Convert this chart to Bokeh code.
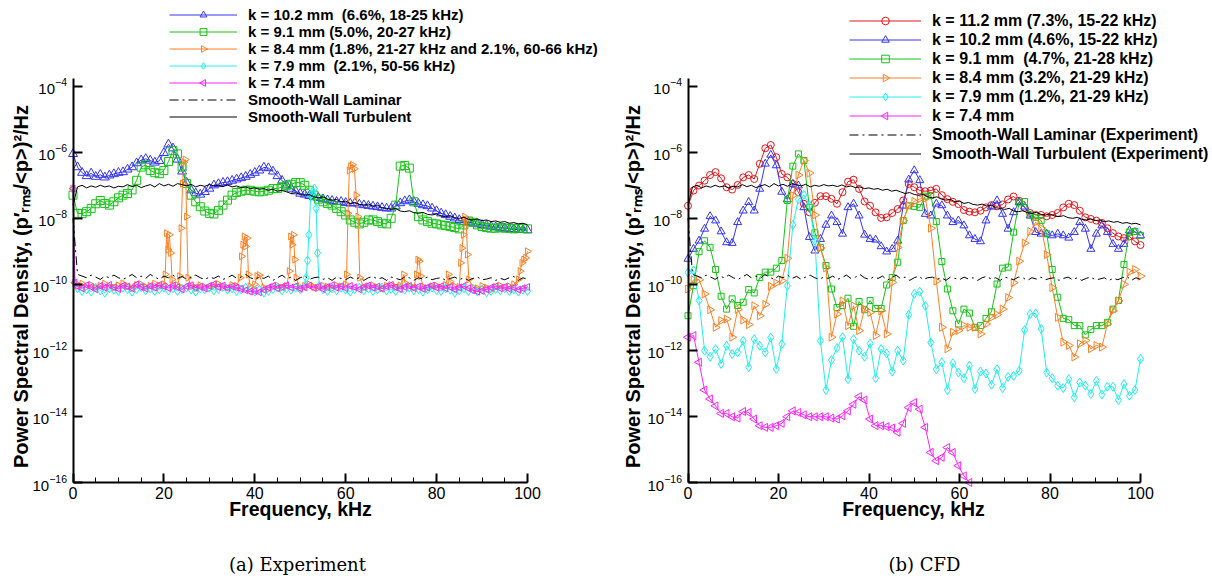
import numpy as np
from bokeh.plotting import figure
from bokeh.layouts import row
from bokeh.models import (Range1d, FixedTicker, SingleIntervalTicker, Legend,
                          LegendItem, Label)
from bokeh.embed import file_html
from bokeh.resources import INLINE

# ------------------------------------------------------------------
# Frequency bins (kHz)
# ------------------------------------------------------------------
exp_freq = list(range(0, 101))                               # experiment, 1 kHz bins
cfd_freq = [round(float(v), 3) for v in np.linspace(0.0, 100.0, 83)]  # CFD bins

# ------------------------------------------------------------------
# Experiment: log10 of PSD
# ------------------------------------------------------------------
exp_k102 = [
    -6.05, -6.45, -6.62, -6.72, -6.64, -6.74, -6.68, -6.76, -6.70, -6.66,
    -6.62, -6.60, -6.52, -6.45, -6.33, -6.24, -6.20, -6.25, -6.31, -6.26,
    -6.02, -5.76, -5.88, -6.22, -6.58, -6.92, -7.15, -7.24, -7.28, -7.20,
    -7.10, -7.00, -6.96, -6.92, -6.90, -6.86, -6.82, -6.78, -6.74, -6.68,
    -6.62, -6.55, -6.46, -6.48, -6.58, -6.72, -6.86, -7.00, -7.10, -7.18,
    -7.25, -7.28, -7.32, -7.36, -7.38, -7.42, -7.45, -7.47, -7.50, -7.50,
    -7.53, -7.55, -7.54, -7.58, -7.60, -7.62, -7.64, -7.66, -7.68, -7.70,
    -7.70, -7.64, -7.54, -7.48, -7.45, -7.50, -7.56, -7.60, -7.63, -7.70,
    -7.78, -7.85, -7.90, -7.95, -8.00, -8.05, -8.10, -8.12, -8.15, -8.18,
    -8.20, -8.22, -8.25, -8.27, -8.28, -8.30, -8.32, -8.33, -8.35, -8.35,
    -8.36]

exp_k91 = [
    -7.30, -7.85, -7.86, -7.80, -7.70, -7.56, -7.46, -7.55, -7.60, -7.50,
    -7.38, -7.30, -7.25, -7.14, -6.85, -6.45, -6.38, -6.55, -6.62, -6.65,
    -6.55, -6.28, -5.95, -6.05, -6.45, -6.95, -7.30, -7.50, -7.65, -7.78,
    -7.85, -7.87, -7.76, -7.60, -7.45, -7.30, -7.22, -7.18, -7.15, -7.15,
    -7.18, -7.20, -7.18, -7.15, -7.10, -7.10, -7.05, -7.00, -6.97, -6.92,
    -6.92, -7.00, -7.15, -7.30, -7.42, -7.50, -7.55, -7.60, -7.70, -7.80,
    -7.90, -8.05, -8.12, -8.17, -8.12, -8.05, -8.05, -8.10, -8.15, -8.17,
    -8.00, -7.60, -6.42, -6.40, -6.48, -7.50, -7.95, -8.05, -8.10, -8.15,
    -8.17, -8.20, -8.22, -8.25, -8.28, -8.32, -8.20, -8.08, -8.12, -8.20,
    -8.25, -8.28, -8.30, -8.30, -8.28, -8.30, -8.30, -8.32, -8.30, -8.30,
    -8.32]

# k = 8.4 mm: baseline with narrow bursts
exp_k84_f = ([0, 0.4] + list(range(1, 21))
             + [20.3, 20.6, 20.9, 21.2, 21.5, 21.8, 22, 23]
             + [23.5, 23.8, 24.1, 24.4, 24.7, 25.0, 25.3] + list(range(26, 37))
             + [36.8, 37.1, 37.4, 37.7, 38.0, 38.3, 38.6, 39, 40, 40.5, 41] + list(range(42, 48))
             + [47.6, 47.9, 48.2, 48.5, 48.8, 49.1] + list(range(50, 61))
             + [60.2, 60.5, 60.8, 61.1, 61.5, 61.9, 62.3, 62.7, 63.1] + list(range(64, 73))
             + [72.8, 73, 74, 75, 75.6, 75.9, 76.2, 76.5] + list(range(77, 83))
             + [82.6, 83, 84, 85, 85.3, 85.6, 85.9, 86.2, 86.5, 86.8, 87.1] + list(range(88, 99))
             + [98.4, 98.8, 99.2, 99.6, 100])
exp_k84 = ([-7.10, -9.95,
            -10.05, -9.98, -10.08, -10.02, -10.10, -10.04, -9.98, -10.06, -10.10, -10.03,
            -9.97, -10.07, -10.12, -10.02, -10.00, -10.08, -10.05, -9.98, -10.04, -10.00]
           + [-9.70, -8.45, -8.95, -8.50, -9.05, -9.85, -10.06, -10.02]
           + [-9.75, -8.30, -6.95, -6.30, -6.22, -7.95, -9.80,
              -10.05, -10.10, -10.03, -10.08, -10.12, -10.04, -9.99, -10.07, -10.10, -10.02, -10.05]
           + [-9.80, -9.15, -8.80, -8.55, -8.85, -8.60, -9.70, -10.06, -10.00, -9.75, -9.72,
              -10.10, -10.15, -10.08, -10.04, -10.10, -10.05]
           + [-9.60, -8.55, -8.80, -8.50, -9.25, -9.80,
              -10.12, -10.05, -10.00, -10.08, -10.10, -10.04, -10.07, -10.12, -10.03, -10.06, -10.00]
           + [-9.70, -7.85, -6.55, -6.42, -6.38, -6.50, -7.30, -7.95, -9.80,
              -10.10, -10.06, -10.03, -10.09, -10.12, -10.05, -10.02, -10.08, -10.04]
           + [-9.70, -9.95, -10.05, -10.10, -9.70, -9.25, -9.30, -9.75,
              -10.07, -10.12, -10.06, -10.04, -10.10, -10.02]
           + [-9.70, -9.92, -10.06, -10.08, -9.35, -8.90, -8.50, -7.95, -8.05, -9.10, -9.85,
              -10.09, -10.12, -10.05, -10.10, -10.16, -10.08, -10.04, -10.10, -10.06, -10.00, -9.85]
           + [-9.60, -9.35, -9.25, -9.20, -9.00])

# k = 7.9 mm: baseline with one burst near 52-54 kHz
exp_k79_f = ([0, 0.4] + list(range(1, 52))
             + [51.3, 51.6, 51.9, 52.3, 52.7, 53.1, 53.5, 53.8, 54.2] + list(range(55, 101)))
exp_k79 = ([-7.10, -9.95,
            -10.12, -10.20, -10.15, -10.22, -10.10, -10.18, -10.25, -10.12, -10.16, -10.20,
            -10.10, -10.15, -10.22, -10.14, -10.08, -10.18, -10.12, -10.20, -10.15, -10.10,
            -10.18, -10.12, -10.20, -10.14, -10.10, -10.16, -10.22, -10.12, -10.15, -10.10,
            -10.18, -10.14, -10.08, -10.16, -10.12, -10.20, -10.15, -10.10, -10.18, -10.22,
            -10.16, -10.25, -10.20, -10.14, -10.10, -10.18, -10.12, -10.16, -10.10, -10.14,
            -10.05]
           + [-9.80, -9.28, -8.50, -7.30, -7.20, -7.10, -7.70, -9.05, -10.05]
           + [-10.15, -10.20, -10.12, -10.18, -10.10, -10.16, -10.22, -10.14, -10.10, -10.18,
              -10.12, -10.20, -10.15, -10.10, -10.18, -10.14, -10.20, -10.12, -10.16, -10.10,
              -10.18, -10.14, -10.22, -10.15, -10.10, -10.17, -10.20, -10.12, -10.16, -10.25,
              -10.18, -10.12, -10.20, -10.15, -10.22, -10.16, -10.24, -10.20, -10.14, -10.18,
              -10.12, -10.20, -10.15, -10.22, -10.16, -10.20])

exp_k74_f = [0, 0.4] + list(range(1, 101))
exp_k74 = [-7.10, -9.95,
    -10.06, -10.12, -10.03, -10.08, -10.15, -10.05, -10.10, -10.02, -10.09, -10.14,
    -10.04, -10.07, -10.12, -10.00, -10.08, -10.13, -10.05, -10.10, -10.02, -10.06,
    -10.11, -10.04, -10.09, -10.15, -10.06, -10.03, -10.10, -10.07, -10.12, -10.05,
    -10.00, -10.08, -10.04, -10.11, -10.06, -10.10, -10.14, -10.18, -10.22, -10.20,
    -10.24, -10.16, -10.10, -10.05, -10.12, -10.08, -10.03, -10.10, -10.06, -10.13,
    -10.09, -10.04, -10.11, -10.07, -10.14, -10.08, -10.03, -10.10, -10.06, -10.12,
    -10.05, -10.09, -10.15, -10.08, -10.04, -10.10, -10.07, -10.13, -10.06, -10.02,
    -10.09, -10.14, -10.08, -10.05, -10.11, -10.07, -10.13, -10.09, -10.04, -10.10,
    -10.06, -10.12, -10.08, -10.15, -10.10, -10.05, -10.12, -10.18, -10.22, -10.20,
    -10.15, -10.10, -10.06, -10.12, -10.08, -10.14, -10.10, -10.16, -10.12, -10.08]

# Smooth-wall references (experiment), shared by both panels
smooth_turb = [
    -7.60, -7.05, -7.00, -7.08, -7.02, -7.06, -7.00, -7.05, -7.02, -7.08,
    -7.03, -7.05, -6.98, -7.04, -7.00, -7.07, -7.02, -6.98, -7.05, -6.95,
    -7.02, -6.97, -7.03, -6.95, -6.98, -7.02, -6.97, -7.05, -7.00, -7.03,
    -6.98, -7.02, -7.00, -7.04, -6.99, -7.05, -7.02, -7.07, -7.05, -7.10,
    -7.08, -7.12, -7.10, -7.15, -7.12, -7.18, -7.15, -7.20, -7.25, -7.22,
    -7.28, -7.30, -7.28, -7.35, -7.38, -7.35, -7.42, -7.45, -7.43, -7.50,
    -7.48, -7.55, -7.52, -7.58, -7.60, -7.57, -7.63, -7.60, -7.68, -7.70,
    -7.73, -7.70, -7.78, -7.80, -7.77, -7.83, -7.85, -7.82, -7.88, -7.90,
    -7.87, -7.93, -7.95, -7.92, -7.98, -8.00, -7.97, -8.03, -8.05, -8.02,
    -8.07, -8.05, -8.10, -8.08, -8.12, -8.10, -8.15, -8.13, -8.17, -8.15,
    -8.20]

smooth_lam = [
    -8.00, -9.70, -9.75, -9.80, -9.72, -9.78, -9.85, -9.75, -9.80, -9.72,
    -9.80, -9.85, -9.78, -9.70, -9.80, -9.75, -9.82, -9.70, -9.78, -9.85,
    -9.75, -9.80, -9.72, -9.82, -9.76, -9.85, -9.78, -9.72, -9.80, -9.85,
    -9.78, -9.82, -9.75, -9.85, -9.80, -9.72, -9.82, -9.78, -9.70, -9.80,
    -9.85, -9.78, -9.82, -9.75, -9.88, -9.80, -9.72, -9.83, -9.78, -9.88,
    -9.80, -9.75, -9.85, -9.80, -9.78, -9.85, -9.80, -9.88, -9.78, -9.82,
    -9.86, -9.78, -9.84, -9.80, -9.88, -9.80, -9.76, -9.84, -9.80, -9.88,
    -9.78, -9.82, -9.86, -9.78, -9.80, -9.88, -9.80, -9.84, -9.78, -9.86,
    -9.82, -9.80, -9.88, -9.82, -9.78, -9.86, -9.80, -9.88, -9.82, -9.78,
    -9.86, -9.84, -9.80, -9.88, -9.82, -9.86, -9.80, -9.76, -9.88, -9.80,
    -9.85]

# ------------------------------------------------------------------
# CFD: log10 of PSD on cfd_freq
# ------------------------------------------------------------------
cfd_k112 = [
    -7.62, -7.16, -7.01, -6.86, -6.69, -6.60, -6.79, -7.06, -7.13, -6.99,
    -6.76, -6.69, -6.81, -6.35, -5.88, -5.78, -6.15, -6.66, -6.76, -6.96,
    -7.21, -7.56, -7.82, -7.53, -7.33, -7.33, -7.41, -7.56, -7.21, -6.89,
    -6.83, -7.11, -7.49, -7.62, -7.82, -7.99, -7.97, -7.84, -7.72, -7.46,
    -6.96, -7.06, -7.16, -7.18, -7.16, -7.11, -7.30, -7.42, -7.50, -7.57,
    -7.75, -7.80, -7.82, -7.77, -7.67, -7.60, -7.64, -7.58, -7.43, -7.34,
    -7.47, -7.68, -7.84, -7.90, -7.90, -7.94, -7.90, -7.84, -7.67, -7.56,
    -7.60, -7.77, -7.97, -8.02, -8.07, -8.14, -8.30, -8.45, -8.55, -8.60,
    -8.55, -8.70, -8.81]

cfd_k102 = [
    -9.23, -8.93, -8.68, -8.32, -7.94, -8.07, -8.40, -8.73, -8.75, -8.12,
    -7.77, -7.51, -7.77, -7.11, -6.35, -6.08, -6.40, -7.20, -7.43, -6.96,
    -7.01, -7.67, -8.57, -8.98, -8.63, -8.20, -7.92, -8.12, -8.47, -7.67,
    -7.56, -7.92, -8.50, -8.63, -8.65, -8.85, -9.01, -8.93, -8.68, -7.62,
    -6.83, -6.55, -6.85, -7.87, -7.92, -7.56, -7.61, -7.92, -8.12, -8.07,
    -8.22, -8.52, -8.63, -8.70, -8.07, -7.65, -7.46, -7.87, -8.32, -7.82,
    -7.51, -7.65, -7.92, -8.42, -8.47, -8.47, -8.52, -8.47, -8.52, -8.59,
    -8.42, -8.12, -8.32, -8.93, -8.47, -8.22, -8.42, -8.78, -8.93, -8.78,
    -8.37, -8.42, -8.52]

cfd_k91 = [
    -10.95, -10.04, -9.01, -8.68, -8.88, -9.55, -10.36, -10.75, -10.44, -10.64,
    -10.54, -10.16, -10.26, -9.79, -9.63, -9.63, -9.51, -9.28, -7.46, -6.42,
    -6.05, -6.25, -7.67, -8.44, -8.88, -9.43, -10.14, -10.70, -10.64, -10.42,
    -11.27, -10.52, -10.77, -10.49, -10.73, -10.73, -10.02, -9.79, -9.33, -8.07,
    -7.62, -7.64, -7.67, -7.33, -7.31, -8.10, -9.31, -10.14, -10.80, -11.20,
    -10.75, -10.87, -11.30, -11.25, -11.03, -10.83, -9.99, -9.51, -9.48, -8.42,
    -7.53, -7.49, -7.90, -7.97, -8.07, -8.47, -9.55, -10.39, -11.03, -11.07,
    -11.25, -11.25, -11.53, -11.37, -11.25, -11.25, -11.15, -10.75, -10.49, -9.40,
    -8.42, -8.40, -8.52]

cfd_k84 = [
    -10.14, -9.86, -9.86, -10.29, -10.77, -11.30, -11.10, -11.05, -11.60, -10.76,
    -11.08, -11.22, -10.65, -10.95, -10.61, -10.06, -9.96, -9.89, -9.21, -7.31,
    -6.69, -6.25, -6.63, -7.90, -8.90, -9.50, -11.60, -10.90, -10.50, -11.25,
    -10.65, -11.40, -10.75, -10.85, -11.55, -10.80, -11.50, -9.94, -8.88, -8.07,
    -7.62, -7.49, -7.41, -7.40, -8.30, -9.90, -11.30, -11.95, -11.45, -11.40,
    -11.25, -11.30, -11.30, -11.50, -11.20, -11.00, -10.92, -10.75, -10.40, -9.95,
    -9.30, -8.75, -8.40, -8.12, -8.30, -9.10, -10.10, -11.00, -11.75, -11.85,
    -12.20, -11.80, -11.70, -11.95, -11.85, -11.90, -11.20, -10.80, -10.50, -10.00,
    -9.63, -9.55, -9.75]

cfd_k79 = [
    -9.64, -9.58, -10.49, -12.01, -12.19, -11.96, -12.41, -11.86, -12.11, -12.06,
    -11.71, -12.51, -11.66, -11.86, -12.06, -11.61, -12.56, -11.81, -10.04, -8.20,
    -7.43, -7.29, -7.60, -8.68, -11.71, -13.20, -12.29, -11.93, -11.60, -12.87,
    -11.66, -12.01, -12.19, -11.79, -12.84, -11.96, -12.09, -12.64, -12.01, -12.31,
    -10.92, -10.29, -10.22, -10.65, -11.76, -12.57, -12.36, -13.20, -12.39, -12.67,
    -12.84, -12.46, -13.17, -12.64, -12.70, -13.04, -12.57, -13.14, -12.80, -12.77,
    -12.62, -11.38, -10.90, -10.88, -11.35, -12.67, -12.84, -13.07, -13.14, -12.87,
    -13.42, -12.97, -13.07, -13.32, -12.92, -13.34, -13.10, -13.10, -13.50, -13.02,
    -13.37, -13.20, -12.26]

# k = 7.4 mm reaches the 1e-16 floor near 62 kHz
cfd_k74 = [
    -11.60, -11.55, -12.36, -13.20, -13.47, -13.68, -13.91, -13.91, -14.01, -14.05,
    -13.85, -13.88, -14.08, -14.28, -14.33, -14.33, -14.28, -14.21, -14.01, -13.83,
    -13.88, -13.95, -14.01, -14.01, -14.01, -14.01, -14.05, -14.08, -13.98, -13.83,
    -13.63, -13.40, -13.50, -14.08, -14.28, -14.28, -14.31, -14.35, -14.48, -14.21,
    -13.73, -13.58, -13.78, -14.33, -15.09, -15.34, -15.24, -14.94, -15.09, -15.49,
    -15.80, -16.00]

exp_labels = ["k = 10.2 mm  (6.6%, 18-25 kHz)",
              "k = 9.1 mm (5.0%, 20-27 kHz)",
              "k = 8.4 mm (1.8%, 21-27 kHz and 2.1%, 60-66 kHz)",
              "k = 7.9 mm  (2.1%, 50-56 kHz)",
              "k = 7.4 mm",
              "Smooth-Wall Laminar",
              "Smooth-Wall Turbulent"]
cfd_labels = ["k = 11.2 mm (7.3%, 15-22 kHz)",
              "k = 10.2 mm (4.6%, 15-22 kHz)",
              "k = 9.1 mm  (4.7%, 21-28 kHz)",
              "k = 8.4 mm (3.2%, 21-29 kHz)",
              "k = 7.9 mm (1.2%, 21-29 kHz)",
              "k = 7.4 mm",
              "Smooth-Wall Laminar (Experiment)",
              "Smooth-Wall Turbulent (Experiment)"]
y_tick_values = [1e-16, 1e-14, 1e-12, 1e-10, 1e-8, 1e-6, 1e-4]
x_label = "Frequency, kHz"
y_label = "Power Spectral Density, (p\u2032\u1d63\u2098\u209b/<p>)\u00b2/Hz"

RED = "#E4161C"
BLUE = "#3434F2"
GREEN = "#14C414"
ORANGE = "#FF7F24"
CYAN = "#22EEEE"
MAGENTA = "#FF22FF"
SANS = "Liberation Sans"
DASHDOT = "9 4 2 4"
RIGHT = -np.pi / 2             # triangle pointing right
LEFT = np.pi / 2               # triangle pointing left

W, H = 606, 580
AXIS_BOTTOM_PX = 98            # distance of the frequency axis from the canvas bottom
PX_PER_DECADE = 33.025
Y_TOP = 10 ** -3.77            # upper end of the drawn PSD axis


class Panel:
    """One spectrum panel. The whole canvas is the drawing area; the axes sit
    at fixed data locations so legends and texts around them are not clipped."""

    def __init__(self, axis_left_px, px_per_khz):
        self.ax_px = axis_left_px
        self.kpx = px_per_khz
        x0 = self.to_x(0)
        x1 = self.to_x(W)
        y0 = self.to_y(0)
        y1 = self.to_y(H)
        p = figure(width=W, height=H, y_axis_type="log",
                   x_range=Range1d(x0, x1), y_range=Range1d(y0, y1),
                   output_backend="svg", toolbar_location=None,
                   min_border=0, min_border_left=0, min_border_right=0,
                   min_border_top=0, min_border_bottom=0)
        p.outline_line_color = None
        p.xgrid.visible = False
        p.ygrid.visible = False
        p.background_fill_color = "white"
        p.border_fill_color = "white"

        xa, ya = p.xaxis[0], p.yaxis[0]
        xa.fixed_location = 1e-16
        ya.fixed_location = 0
        xa.bounds = (0, 100)
        ya.bounds = (1e-16, Y_TOP)
        xa.ticker = SingleIntervalTicker(interval=20, num_minor_ticks=4)
        ya.ticker = FixedTicker(ticks=y_tick_values)
        for ax in (xa, ya):
            ax.axis_line_width = 2
            ax.axis_line_color = "black"
            ax.major_tick_in = 9
            ax.major_tick_out = 0
            ax.major_tick_line_width = 2
            ax.minor_tick_in = 5
            ax.minor_tick_out = 0
            ax.minor_tick_line_width = 1
            ax.major_label_text_font = SANS
            ax.major_label_text_color = "black"
        xa.major_label_text_font_size = "16px"
        ya.major_label_text_font_size = "15px"
        ya.minor_tick_line_color = None
        xa.major_label_standoff = 4
        ya.major_label_standoff = 6
        self.p = p

    # canvas pixel (from left / from bottom) -> data coordinates
    def to_x(self, px):
        return (px - self.ax_px) / self.kpx

    def to_y(self, py):
        return 10 ** (-16 + (py - AXIS_BOTTOM_PX) / PX_PER_DECADE)

    def text(self, text, x, y, size, angle=0.0, font=SANS, style="bold"):
        self.p.add_layout(Label(x=x, y=y, x_units="screen", y_units="screen",
                                text=text, angle=angle, text_align="center",
                                text_baseline="middle", text_font=font,
                                text_font_style=style, text_font_size=size,
                                text_color="black"))

    def series(self, f, logv, color, marker, size, angle=0.0):
        y = [10.0 ** v for v in logv]
        ln = self.p.line(list(f), y, line_color=color, line_width=1)
        sc = self.p.scatter(list(f), y, marker=marker, size=size, angle=angle,
                            line_color=color, line_width=1, fill_alpha=0)
        return dict(line=ln, mark=sc, color=color, marker=marker, angle=angle)

    def curve(self, f, logv, dash="solid"):
        y = [10.0 ** v for v in logv]
        ln = self.p.line(list(f), y, line_color="black", line_width=1, line_dash=dash)
        return dict(line=ln, mark=None)

    def legend(self, labels, groups, x, y, font_size, glyph_w, row_h):
        items = []
        n = len(labels)
        for i, (lab, g) in enumerate(zip(labels, groups)):
            rends = [g["line"]]
            if g["mark"] is not None:
                if g["angle"] == 0.0:
                    rends.append(g["mark"])
                else:
                    # legend glyphs are never rotated, so draw the pointed symbol here
                    cx = x + glyph_w / 2
                    cy = y + (n - i - 0.5) * row_h
                    self.p.scatter([self.to_x(cx)], [self.to_y(cy)], marker=g["marker"],
                                   angle=g["angle"], size=0.4 * row_h,
                                   line_color=g["color"], line_width=1, fill_alpha=0)
            items.append(LegendItem(label=lab, renderers=rends))
        lg = Legend(items=items, location=(x, y), orientation="vertical",
                    border_line_color=None, background_fill_alpha=0,
                    padding=0, margin=0, spacing=0,
                    glyph_width=glyph_w, glyph_height=row_h, label_height=row_h,
                    label_standoff=11, label_text_font=SANS,
                    label_text_font_style="bold", label_text_font_size=font_size,
                    label_text_color="black")
        self.p.add_layout(lg)


# ---------------- Experiment panel ----------------
a = Panel(72.5, 4.545)
g1 = [
    a.series(exp_freq, exp_k102, BLUE, "triangle", 9),
    a.series(exp_freq, exp_k91, GREEN, "square", 8),
    a.series(exp_k84_f, exp_k84, ORANGE, "triangle", 7, RIGHT),
    a.series(exp_k79_f, exp_k79, CYAN, "diamond", 9),
    a.series(exp_k74_f, exp_k74, MAGENTA, "triangle", 7, LEFT),
    a.curve(exp_freq, smooth_lam, DASHDOT),
    a.curve(exp_freq, smooth_turb),
]
a.legend(exp_labels, g1, 169, 455, "15px", 68, 17)
a.text(y_label, 20, 294, "20px", angle=np.pi / 2)
a.text(x_label, 300, 72, "19.5px")
a.text("(a) Experiment", 297, 16, "18px", font="DejaVu Serif", style="normal")

# ---------------- CFD panel ----------------
b = Panel(81.5, 4.525)
g2 = [
    b.series(cfd_freq, cfd_k112, RED, "circle", 7),
    b.series(cfd_freq, cfd_k102, BLUE, "triangle", 8),
    b.series(cfd_freq, cfd_k91, GREEN, "square", 6),
    b.series(cfd_freq, cfd_k84, ORANGE, "triangle", 8, RIGHT),
    b.series(cfd_freq, cfd_k79, CYAN, "diamond", 9),
    b.series(cfd_freq[:len(cfd_k74)], cfd_k74, MAGENTA, "triangle", 8, LEFT),
    b.curve(exp_freq, smooth_lam, DASHDOT),
    b.curve(exp_freq, smooth_turb),
]
b.legend(cfd_labels, g2, 243, 417, "16px", 72, 19)
b.text(y_label, 26, 294, "20px", angle=np.pi / 2)
b.text(x_label, 307, 72, "19.5px")
b.text("(b) CFD", 318, 16, "18px", font="DejaVu Serif", style="normal")

layout = row(a.p, b.p)
open("out.html", "w").write(file_html(layout, INLINE))
